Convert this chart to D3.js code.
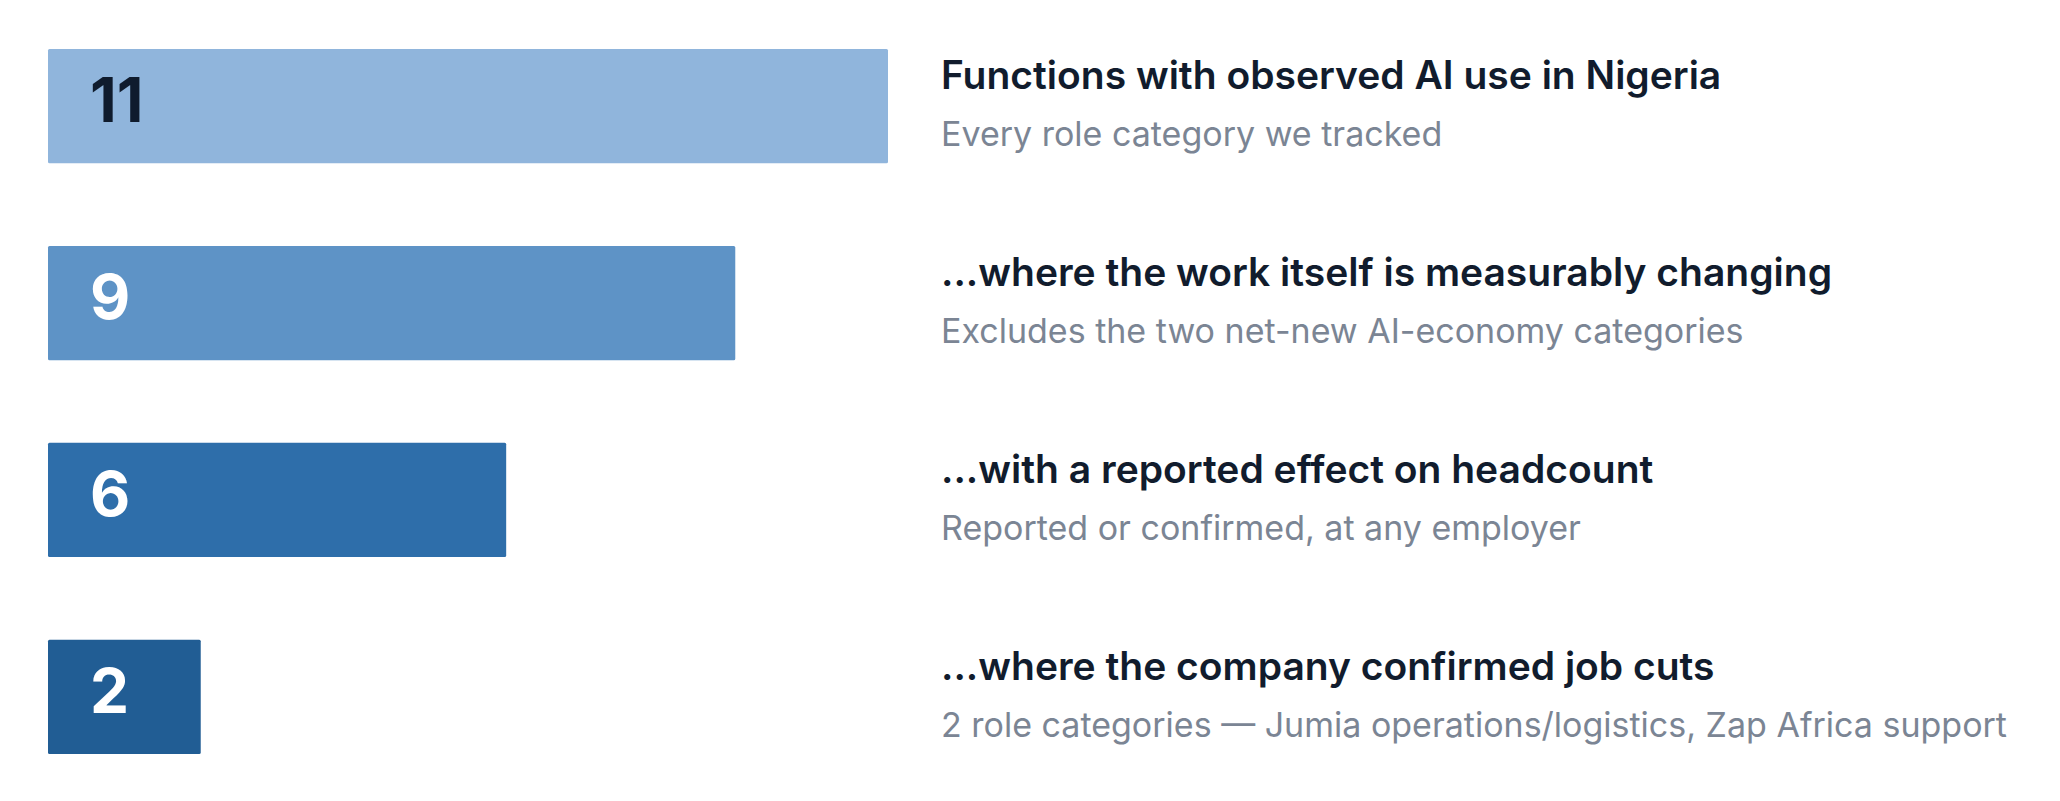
<!DOCTYPE html>
<html><head><meta charset="utf-8">
<script src="https://cdn.jsdelivr.net/npm/d3@7"></script>
<style>body{margin:0;background:#fff}</style></head>
<body><svg id="c" width="2060" height="801"></svg>
<script>
const values = [11, 9, 6, 2];
const titles = ["Functions with observed AI use in Nigeria","...where the work itself is measurably changing","...with a reported effect on headcount","...where the company confirmed job cuts"];
const subtitles = ["Every role category we tracked","Excludes the two net-new AI-economy categories","Reported or confirmed, at any employer","2 role categories — Jumia operations/logistics, Zap Africa support"];
const colors = ["#90b5dc","#5e93c6","#2e6eaa","#215d94"];
const numColors = ["#0f1b2d","#fff","#fff","#fff"];

const svg = d3.select("#c");
const x = d3.scaleLinear().domain([0,11]).range([48,888]);
const y = d3.scaleBand().domain(d3.range(values.length)).range([49,754]).paddingInner(0.42).paddingOuter(0);
const g = svg.selectAll("g.row").data(values).join("g").attr("class","row");
g.append("rect").attr("x",x(0)).attr("y",(d,i)=>y(i)).attr("width",d=>x(d)-x(0))
 .attr("height",y.bandwidth()).attr("fill",(d,i)=>colors[i]).attr("rx",1.5);
g.append("text").attr("x",90).attr("y",(d,i)=>y(i)+73)
 .attr("font-family","Inter").attr("font-weight",700).attr("font-size",62)
 .attr("fill",(d,i)=>numColors[i]).text(d=>d);
g.append("text").attr("x",941).attr("y",(d,i)=>y(i)+40)
 .attr("font-family","Inter").attr("font-weight",600).attr("font-size",39)
 .attr("fill","#111c2d").text((d,i)=>titles[i]);
g.append("text").attr("x",941).attr("y",(d,i)=>y(i)+97)
 .attr("font-family","Inter").attr("font-weight",400).attr("font-size",34)
 .attr("fill","#7b8594").text((d,i)=>subtitles[i]);
</script></body></html>
